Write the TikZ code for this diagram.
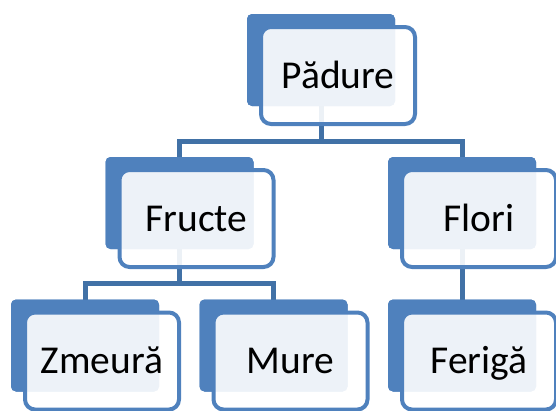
\documentclass[tikz,border=0pt]{standalone}
\usepackage{fontspec}
\setmainfont{Carlito}
\definecolor{acc}{RGB}{79,129,189}
\definecolor{linkc}{RGB}{65,113,166}
\begin{document}
\begin{tikzpicture}[x=1pt,y=-1pt,
 backbox/.style={rectangle,rounded corners=5pt,fill=acc,minimum width=148pt,minimum height=92pt,inner sep=0pt},
 frontbox/.style={rectangle,rounded corners=10pt,draw=acc,line width=4pt,fill=white,fill opacity=0.9,text opacity=1,minimum width=154pt,minimum height=97pt,inner sep=0pt,font=\fontsize{39.5}{42}\selectfont,text height=30pt,text depth=5pt},
 link/.style={draw=linkc,line width=5pt}]
\useasboundingbox (0,0) rectangle (556,410);
\clip (0,0) rectangle (556,410);
% back boxes
\node[backbox] (padB) at (321,60) {};
\node[backbox] (fruB) at (179.5,203) {};
\node[backbox] (floB) at (462,203) {};
\node[backbox] (zmeB) at (85,345.5) {};
\node[backbox] (murB) at (273.5,345.5) {};
\node[backbox] (ferB) at (462,345.5) {};
% connectors
\coordinate (j1) at (321,141);
\coordinate (j2) at (179.5,283);
\draw[link] (padB.center) -- (j1) -| (fruB.center);
\draw[link] (j1) -| (floB.center);
\draw[link] (fruB.center) -- (j2) -| (zmeB.center);
\draw[link] (j2) -| (murB.center);
\draw[link] (floB.center) -- (ferB.center);
% redraw back boxes above connectors
\foreach \b in {padB,fruB,floB,zmeB,murB,ferB}
  \node[backbox] at (\b.center) {};
% front boxes
\node[frontbox] (pad) at ([shift={(17,15.5)}]padB.center) {Pădure};
\node[frontbox] (fru) at ([shift={(17,15.5)}]fruB.center) {Fructe};
\node[frontbox] (flo) at ([shift={(17,15.5)}]floB.center) {Flori};
\node[frontbox] (zme) at ([shift={(17,15.5)}]zmeB.center) {Zmeură};
\node[frontbox] (mur) at ([shift={(17,15.5)}]murB.center) {Mure};
\node[frontbox] (fer) at ([shift={(17,15.5)}]ferB.center) {Ferigă};
\end{tikzpicture}
\end{document}
